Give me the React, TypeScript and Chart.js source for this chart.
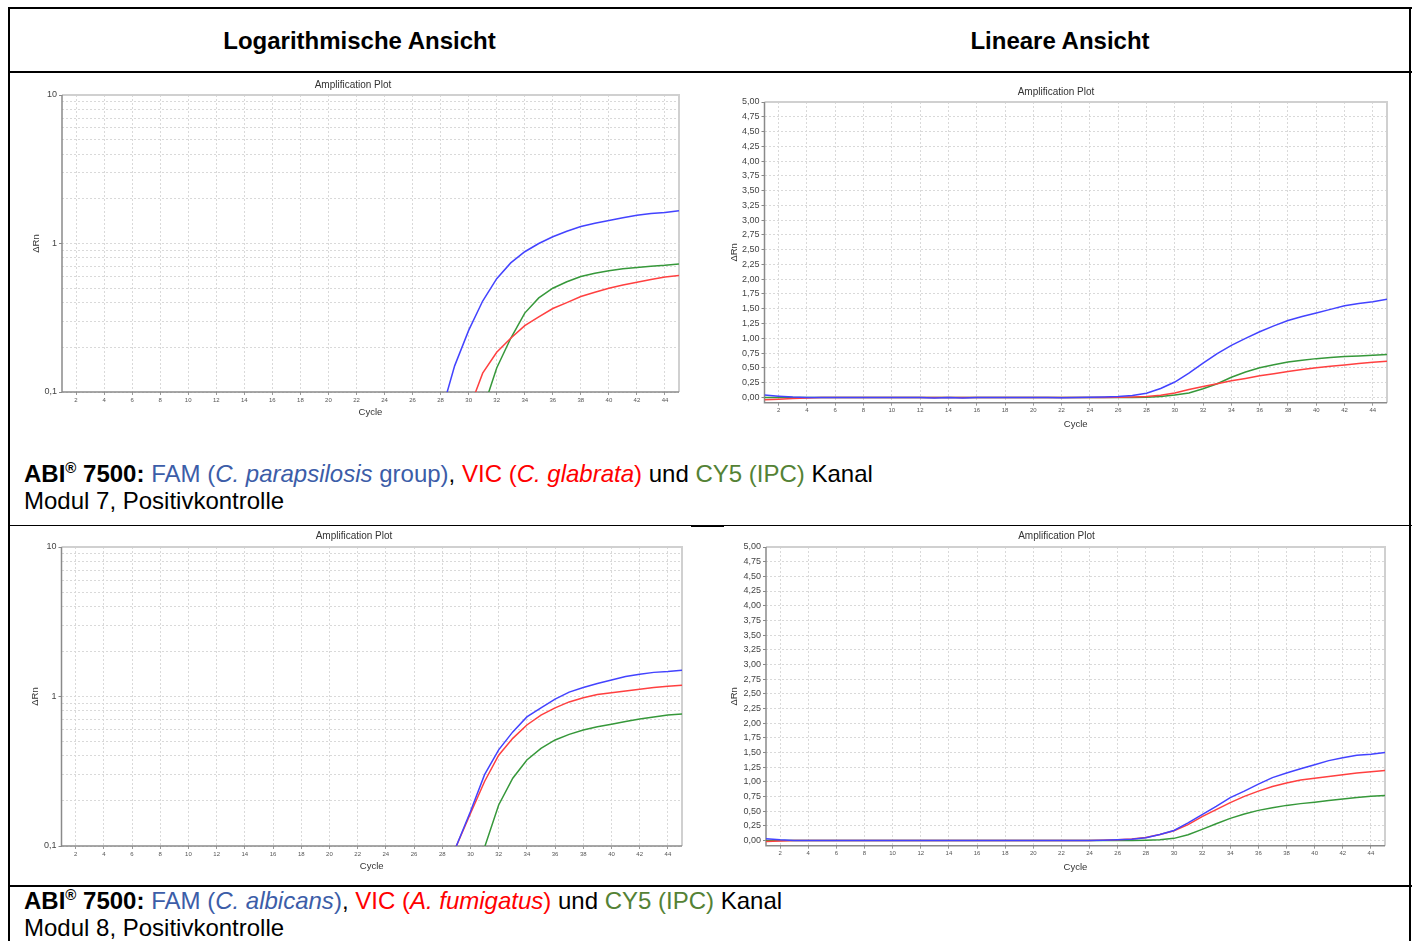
import React, { useEffect, useRef } from 'react';
import { Chart, registerables } from 'chart.js';

Chart.register(...registerables);
Chart.defaults.font.family = "'Liberation Sans', Arial, sans-serif";

// ---------- data ----------
const CYCLES = [1, 2, 3, 4, 5, 6, 7, 8, 9, 10, 11, 12, 13, 14, 15, 16, 17, 18, 19, 20, 21, 22, 23, 24, 25, 26, 27, 28, 29, 30, 31, 32, 33, 34, 35, 36, 37, 38, 39, 40, 41, 42, 43, 44, 45];
const X_TICKS = [2, 4, 6, 8, 10, 12, 14, 16, 18, 20, 22, 24, 26, 28, 30, 32, 34, 36, 38, 40, 42, 44];
const LOG_TICKS = [0.1, 0.2, 0.3, 0.4, 0.5, 0.6, 0.7, 0.8, 0.9, 1, 2, 3, 4, 5, 6, 7, 8, 9, 10];
const LOG_TICK_LABELS: Record<string, string> = { '0.1': '0,1', '1': '1', '10': '10' };
const LIN_TICKS = [0, 0.25, 0.5, 0.75, 1, 1.25, 1.5, 1.75, 2, 2.25, 2.5, 2.75, 3, 3.25, 3.5, 3.75, 4, 4.25, 4.5, 4.75, 5];

// Modul 7
const M7_FAM = [0.04, 0.02, 0.005, 0, 0, 0, 0, 0, 0, 0, 0, 0, -0.01, -0.004, -0.012, 0, 0, 0, 0, 0, 0, -0.008, 0, 0.002, 0.008, 0.015, 0.03, 0.07, 0.15, 0.26, 0.41, 0.58, 0.74, 0.88, 1.0, 1.11, 1.21, 1.3, 1.37, 1.43, 1.49, 1.55, 1.59, 1.62, 1.66];
const M7_VIC = [-0.04, -0.03, -0.02, -0.01, -0.004, 0, 0, 0, 0, 0, 0, 0, 0, 0, 0, 0, 0, 0, 0, 0, 0, 0, 0, 0, 0, 0.003, 0.008, 0.015, 0.035, 0.075, 0.134, 0.185, 0.23, 0.28, 0.32, 0.365, 0.4, 0.44, 0.47, 0.5, 0.525, 0.548, 0.572, 0.595, 0.61];
const M7_CY5 = [0, 0, 0, 0, 0, 0, 0, 0, 0, 0, 0, 0, 0, 0, 0, 0, 0, 0, 0, 0, 0, 0, 0, 0, 0, 0, 0, 0.003, 0.015, 0.04, 0.075, 0.145, 0.23, 0.34, 0.43, 0.5, 0.553, 0.6, 0.63, 0.656, 0.675, 0.69, 0.702, 0.713, 0.728];

// Modul 8
const M8_FAM = [0.03, 0.01, 0, 0, 0, 0, 0, 0, 0, 0, 0, 0, 0, 0, 0, 0, 0, 0, 0, 0, 0, 0, 0, 0, 0.003, 0.01, 0.02, 0.045, 0.1, 0.17, 0.3, 0.44, 0.58, 0.73, 0.84, 0.96, 1.07, 1.15, 1.22, 1.29, 1.36, 1.41, 1.45, 1.47, 1.5];
const M8_VIC = [-0.02, -0.01, 0, 0, 0, 0, 0, 0, 0, 0, 0, 0, 0, 0, 0, 0, 0, 0, 0, 0, 0, 0, 0, 0, 0.005, 0.012, 0.025, 0.05, 0.1, 0.165, 0.27, 0.405, 0.525, 0.645, 0.75, 0.84, 0.92, 0.98, 1.03, 1.06, 1.09, 1.12, 1.15, 1.17, 1.19];
const M8_CY5 = [0, 0, 0, 0, 0, 0, 0, 0, 0, 0, 0, 0, 0, 0, 0, 0, 0, 0, 0, 0, 0, 0, 0, 0, 0, 0, 0, 0.004, 0.012, 0.035, 0.098, 0.188, 0.284, 0.376, 0.45, 0.512, 0.558, 0.597, 0.627, 0.652, 0.68, 0.707, 0.73, 0.752, 0.764];

// ---------- styles ----------
const BLUE = '#4343ff';
const RED = '#ff4040';
const GREEN = '#36983a';
const GRID = '#d9d9d9';
const TXT_BLUE = '#3c5da8';
const TXT_RED = '#ff0000';
const TXT_GREEN = '#548235';
const FONT = "'Liberation Sans', Arial, sans-serif";

type Geo = {
  L: number; T: number; W: number; H: number;
  cl: number; ct: number; cr: number; cb: number;
  titlePadTop: number; yTitlePad: number; xTitlePad: number;
};

const framePlugin = {
  id: 'frame',
  beforeDatasetsDraw(chart: any) {
    const { ctx, chartArea: a } = chart;
    ctx.save();
    ctx.setLineDash([]);
    ctx.lineWidth = 2;
    ctx.strokeStyle = '#d0d0d0';
    ctx.beginPath();
    ctx.moveTo(a.left, a.top);
    ctx.lineTo(a.right, a.top);
    ctx.lineTo(a.right, a.bottom);
    ctx.stroke();
    ctx.lineWidth = 1.5;
    ctx.strokeStyle = '#8a8a8a';
    ctx.beginPath();
    ctx.moveTo(a.left, a.top);
    ctx.lineTo(a.left, a.bottom);
    ctx.lineTo(a.right, a.bottom);
    ctx.stroke();
    ctx.restore();
  },
};

function AmpChart(props: { kind: 'log' | 'linear'; fam: number[]; vic: number[]; cy5: number[]; geo: Geo }) {
  const { kind, fam, vic, cy5, geo } = props;
  const ref = useRef<HTMLCanvasElement>(null);
  useEffect(() => {
    const isLog = kind === 'log';
    const toPts = (arr: number[]) => CYCLES.map((c, i) => ({ x: c, y: isLog ? Math.max(arr[i], 0.001) : arr[i] }));
    const titleBottom = geo.ct - geo.T - 12 - geo.titlePadTop;
    const yScale: any = isLog
      ? {
          type: 'logarithmic', min: 0.1, max: 10, bounds: 'data',
          afterBuildTicks: (s: any) => { s.ticks = LOG_TICKS.map((v) => ({ value: v })); },
          ticks: {
            autoSkip: false, font: { size: 9 }, color: '#444', padding: 2,
            callback: (v: any) => LOG_TICK_LABELS[String(v)] ?? '',
          },
          grid: {
            color: GRID, lineWidth: 1, tickLength: 3,
            tickColor: (c: any) => (c.tick && LOG_TICK_LABELS[String(c.tick.value)] ? '#888' : 'rgba(0,0,0,0)'),
          },
        }
      : {
          type: 'linear', min: -0.09, max: 5, bounds: 'data',
          afterBuildTicks: (s: any) => { s.ticks = LIN_TICKS.map((v) => ({ value: v })); },
          ticks: {
            autoSkip: false, font: { size: 9 }, color: '#444', padding: 2,
            callback: (v: any) => Number(v).toFixed(2).replace('.', ','),
          },
          grid: { color: GRID, lineWidth: 1, tickLength: 3, tickColor: '#888' },
        };
    yScale.afterFit = (s: any) => { s.width = geo.cl - geo.L; };
    yScale.border = { display: false, dash: [2, 2] };
    yScale.title = { display: true, text: 'ΔRn', font: { size: 9.5 }, color: '#333', padding: { top: geo.yTitlePad, bottom: 0 } };

    const chart = new Chart(ref.current as HTMLCanvasElement, {
      type: 'line',
      data: {
        datasets: [
          { label: 'FAM', data: toPts(fam), borderColor: BLUE, backgroundColor: BLUE },
          { label: 'VIC', data: toPts(vic), borderColor: RED, backgroundColor: RED },
          { label: 'CY5', data: toPts(cy5), borderColor: GREEN, backgroundColor: GREEN },
        ],
      },
      options: {
        animation: false,
        responsive: false,
        events: [],
        layout: { padding: { left: 0, top: 0, bottom: 0, right: geo.L + geo.W - geo.cr } },
        elements: { point: { radius: 0 }, line: { borderWidth: 1.5, tension: 0 } },
        plugins: {
          legend: { display: false },
          tooltip: { enabled: false },
          title: {
            display: true, text: 'Amplification Plot', color: '#333', font: { size: 10, weight: 'normal' },
            padding: { top: geo.titlePadTop, bottom: titleBottom },
          },
        },
        scales: {
          x: {
            type: 'linear', min: 1, max: 45, bounds: 'data',
            afterBuildTicks: (s: any) => { s.ticks = X_TICKS.map((v) => ({ value: v })); },
            afterFit: (s: any) => { s.height = geo.T + geo.H - geo.cb; },
            ticks: { autoSkip: false, maxRotation: 0, font: { size: 6 }, color: '#555', padding: 1.5, callback: (v: any) => String(v) },
            grid: { color: GRID, lineWidth: 1, tickLength: 3, tickColor: '#999' },
            border: { display: false, dash: [2, 2] },
            title: { display: true, text: 'Cycle', font: { size: 9.5 }, color: '#333', padding: { top: 0, bottom: geo.xTitlePad } },
          },
          y: yScale,
        },
      } as any,
      plugins: [framePlugin],
    });
    return () => chart.destroy();
  }, []);
  return (
    <canvas
      ref={ref}
      width={geo.W}
      height={geo.H}
      style={{ position: 'absolute', left: geo.L, top: geo.T, width: geo.W, height: geo.H }}
    />
  );
}

const G1: Geo = { L: 27, T: 75, W: 660, H: 350, cl: 62, ct: 95, cr: 679, cb: 392, titlePadTop: 4, yTitlePad: 3.3, xTitlePad: 7.3 };
const G2: Geo = { L: 725, T: 80, W: 665, H: 358, cl: 764.5, ct: 102, cr: 1387, cb: 402.7, titlePadTop: 6, yTitlePad: 3.3, xTitlePad: 8.3 };
const G3: Geo = { L: 26, T: 527, W: 662, H: 358, cl: 61.5, ct: 547, cr: 682, cb: 846, titlePadTop: 3.5, yTitlePad: 3.3, xTitlePad: 12.8 };
const G4: Geo = { L: 727.5, T: 527, W: 662, H: 358, cl: 765.5, ct: 547, cr: 1384.5, cb: 845.7, titlePadTop: 3.5, yTitlePad: 0.3, xTitlePad: 12.3 };

function Line(p: { x: number; y: number; w: number; h: number }) {
  return <div style={{ position: 'absolute', left: p.x, top: p.y, width: p.w, height: p.h, background: '#000' }} />;
}

function Caption(p: { top: number; fam: string; famSuffix: string; vic: string; modul: string }) {
  return (
    <div
      style={{
        position: 'absolute', left: 24, top: p.top, fontFamily: FONT, fontSize: 24, lineHeight: '27px',
        color: '#000', whiteSpace: 'nowrap',
      }}
    >
      <b>
        ABI<span style={{ fontSize: 15, lineHeight: 0, position: 'relative', top: -9 }}>®</span> 7500:
      </b>{' '}
      <span style={{ color: TXT_BLUE }}>
        FAM (<i>{p.fam}</i>{p.famSuffix})
      </span>
      , <span style={{ color: TXT_RED }}>VIC (<i>{p.vic}</i>)</span> und{' '}
      <span style={{ color: TXT_GREEN }}>CY5 (IPC)</span> Kanal
      <br />
      {p.modul}
    </div>
  );
}

export default function App() {
  return (
    <div style={{ position: 'absolute', left: 0, top: 0, width: 1416, height: 941, background: '#fff', overflow: 'hidden' }}>
      <AmpChart kind="log" fam={M7_FAM} vic={M7_VIC} cy5={M7_CY5} geo={G1} />
      <AmpChart kind="linear" fam={M7_FAM} vic={M7_VIC} cy5={M7_CY5} geo={G2} />
      <AmpChart kind="log" fam={M8_FAM} vic={M8_VIC} cy5={M8_CY5} geo={G3} />
      <AmpChart kind="linear" fam={M8_FAM} vic={M8_VIC} cy5={M8_CY5} geo={G4} />

      <div style={{ position: 'absolute', left: 9, top: 10, width: 701, height: 62, display: 'flex', alignItems: 'center', justifyContent: 'center', fontFamily: FONT, fontSize: 24, fontWeight: 'bold' }}>
        Logarithmische Ansicht
      </div>
      <div style={{ position: 'absolute', left: 710, top: 10, width: 700, height: 62, display: 'flex', alignItems: 'center', justifyContent: 'center', fontFamily: FONT, fontSize: 24, fontWeight: 'bold' }}>
        Lineare Ansicht
      </div>

      <Caption top={460} fam="C. parapsilosis" famSuffix=" group" vic="C. glabrata" modul="Modul 7, Positivkontrolle" />
      <Caption top={887} fam="C. albicans" famSuffix="" vic="A. fumigatus" modul="Modul 8, Positivkontrolle" />

      <Line x={8} y={7} w={1404} h={2} />
      <Line x={8} y={7} w={2} h={934} />
      <Line x={1409} y={7} w={2} h={934} />
      <Line x={8} y={71} w={1404} h={2} />
      <Line x={8} y={525} w={1404} h={1} />
      <Line x={691} y={525} w={33} h={2} />
      <Line x={8} y={885} w={1404} h={2} />
    </div>
  );
}
